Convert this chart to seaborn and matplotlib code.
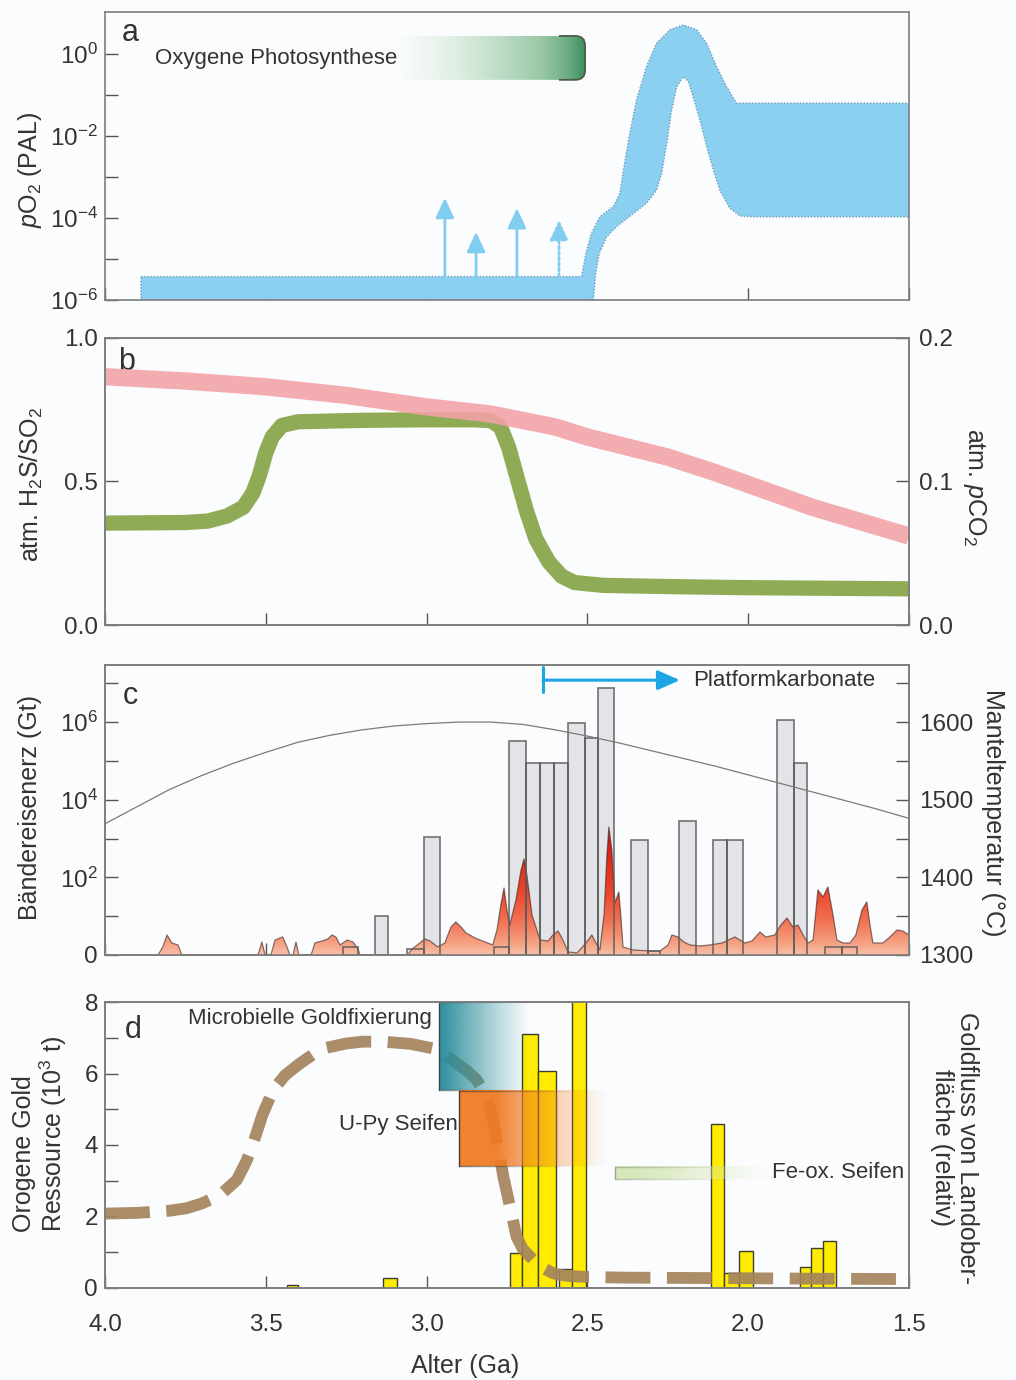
import numpy as np
import pandas as pd
import matplotlib
matplotlib.use("Agg")
import matplotlib.pyplot as plt
import seaborn as sns
from matplotlib.patches import FancyBboxPatch, Rectangle, Polygon
from matplotlib.colors import LinearSegmentedColormap, to_rgb
from matplotlib.ticker import FixedLocator, FixedFormatter, NullLocator

# ---------------- shared x axis ----------------
AGE_LIM = (4.0, 1.5)
AGE_TICKS = [4.0, 3.5, 3.0, 2.5, 2.0, 1.5]
AGE_TICK_LABELS = ["4.0", "3.5", "3.0", "2.5", "2.0", "1.5"]

# ---------------- panel a : pO2 (log10 PAL) ----------------
PO2_UPPER_AGE = [3.888, 2.518, 2.504, 2.487, 2.461, 2.419, 2.399, 2.386, 2.368, 2.347,
                 2.316, 2.285, 2.243, 2.202, 2.160, 2.129, 2.098, 2.067, 2.036, 1.5]
PO2_UPPER_LOG = [-5.43, -5.43, -4.85, -4.37, -3.97, -3.72, -3.40, -2.75, -1.93, -1.12,
                 -0.31, 0.26, 0.59, 0.71, 0.59, 0.26, -0.31, -0.80, -1.20, -1.20]
PO2_LOWER_AGE = [3.888, 2.486, 2.481, 2.474, 2.463, 2.440, 2.409, 2.357, 2.316, 2.285,
                 2.269, 2.253, 2.238, 2.222, 2.202, 2.186, 2.171, 2.150, 2.129, 2.108,
                 2.088, 2.057, 2.025, 1.984, 1.5]
PO2_LOWER_LOG = [-6.5, -6.5, -6.0, -5.35, -4.86, -4.46, -4.21, -3.89, -3.64, -3.32,
                 -2.91, -2.18, -1.37, -0.80, -0.55, -0.67, -1.04, -1.61, -2.26, -2.83,
                 -3.32, -3.76, -3.95, -3.97, -3.97]
ARROW_AGE = [2.943, 2.846, 2.719, 2.588]
ARROW_TIP_LOG = [-3.51, -4.34, -3.76, -4.05]
ARROW_DOTTED = [False, False, False, True]
PHOTO_AGE = [3.092, 2.507]
PHOTO_LOG = [-0.63, 0.44]
A_TICK_EXP = [-6, -5, -4, -3, -2, -1, 0]
A_TICK_LABELS = ["$10^{-6}$", "", "$10^{-4}$", "", "$10^{-2}$", "", "$10^{0}$"]

# ---------------- panel b ----------------
H2S_AGE = [4.0, 3.75, 3.68, 3.62, 3.57, 3.54, 3.52, 3.50, 3.48, 3.45, 3.40, 3.2, 3.0, 2.85,
           2.80, 2.77, 2.745, 2.72, 2.69, 2.66, 2.62, 2.58, 2.54, 2.45, 2.2, 2.0, 1.75, 1.5]
H2S_RATIO = [0.355, 0.357, 0.362, 0.38, 0.41, 0.46, 0.52, 0.60, 0.655, 0.695, 0.708, 0.713,
             0.715, 0.715, 0.712, 0.69, 0.62, 0.52, 0.40, 0.30, 0.22, 0.17, 0.148, 0.138,
             0.133, 0.130, 0.128, 0.126]
CO2_AGE = [4.0, 3.75, 3.5, 3.25, 3.0, 2.8, 2.6, 2.5, 2.25, 2.1, 2.0, 1.9, 1.8, 1.65, 1.5]
CO2_ATM = [0.173, 0.170, 0.166, 0.160, 0.152, 0.147, 0.138, 0.131, 0.117, 0.106, 0.098,
           0.090, 0.082, 0.072, 0.062]
B_LEFT_TICKS = [0.0, 0.5, 1.0]
B_LEFT_LABELS = ["0.0", "0.5", "1.0"]
B_RIGHT_TICKS = [0.0, 0.1, 0.2]
B_RIGHT_LABELS = ["0.0", "0.1", "0.2"]

# ---------------- panel c ----------------
BIF_OLD = [3.260, 3.160, 3.061, 3.008, 2.790, 2.744, 2.690, 2.647, 2.604, 2.560, 2.507,
           2.467, 2.364, 2.312, 2.215, 2.109, 2.066, 1.910, 1.858, 1.761, 1.708]
BIF_YOUNG = [3.213, 3.120, 3.008, 2.958, 2.744, 2.690, 2.647, 2.604, 2.560, 2.507, 2.467,
             2.417, 2.312, 2.274, 2.162, 2.066, 2.016, 1.858, 1.817, 1.708, 1.662]
BIF_GT = [1.6, 10, 1.4, 1.1e3, 1.6, 3.3e5, 8.9e4, 8.9e4, 8.9e4, 9.7e5, 4.0e5,
          7.6e6, 9.2e2, 1.3, 2.9e3, 9.2e2, 9.2e2, 1.1e6, 9.0e4, 1.6, 1.6]
ORANGE_AGE = [3.835, 3.820, 3.807, 3.792, 3.773, 3.761,
              3.524, 3.512, 3.502, 3.484, 3.471, 3.447, 3.434, 3.425, 3.415, 3.406, 3.397,
              3.359, 3.347, 3.325, 3.307, 3.294, 3.282, 3.269, 3.260, 3.247, 3.229, 3.213, 3.207,
              3.058, 3.045, 3.021, 3.005, 2.989, 2.965, 2.943, 2.924, 2.909, 2.893, 2.877, 2.849,
              2.818, 2.794, 2.781, 2.769, 2.759, 2.750, 2.741, 2.722, 2.706, 2.697, 2.688, 2.672,
              2.647, 2.622, 2.607, 2.591, 2.576, 2.560, 2.532, 2.504, 2.486, 2.470, 2.461, 2.448,
              2.439, 2.433, 2.424, 2.414, 2.402, 2.396, 2.389, 2.358, 2.305, 2.274, 2.249, 2.237,
              2.218, 2.200, 2.181, 2.150, 2.119, 2.081, 2.041, 2.010, 1.988, 1.963, 1.945, 1.917,
              1.898, 1.879, 1.861, 1.845, 1.829, 1.814, 1.798, 1.783, 1.767, 1.752, 1.736, 1.724,
              1.705, 1.683, 1.665, 1.646, 1.631, 1.621, 1.612, 1.581, 1.559, 1.537, 1.519, 1.5]
ORANGE_H = [0, 8, 20, 12, 10, 0,
            0, 13, 0, 0, 15, 18, 8, 0, 0, 13, 0,
            0, 12, 14, 16, 20, 18, 10, 12, 15, 13, 6, 0,
            0, 6, 12, 16, 14, 8, 12, 28, 33, 28, 22, 17,
            13, 10, 25, 50, 67, 45, 30, 55, 85, 96, 80, 40,
            15, 14, 20, 24, 15, 3, 2, 12, 20, 10, 5, 40,
            100, 128, 105, 52, 63, 40, 8, 5, 4, 4, 10, 20,
            18, 13, 10, 9, 10, 12, 18, 12, 14, 23, 18, 20,
            30, 37, 28, 30, 20, 12, 15, 65, 58, 68, 40, 15,
            12, 12, 20, 45, 53, 30, 12, 12, 18, 25, 24, 20]
MANTLE_AGE = [4.0, 3.9, 3.8, 3.7, 3.6, 3.5, 3.4, 3.3, 3.2, 3.1, 3.0, 2.9, 2.8, 2.7, 2.6,
              2.5, 2.4, 2.3, 2.2, 2.1, 2.0, 1.9, 1.8, 1.7, 1.6, 1.5]
MANTLE_T = [1469, 1491, 1513, 1531, 1547, 1561, 1574, 1583, 1590, 1595, 1598, 1600, 1600,
            1597, 1590, 1582, 1573, 1563, 1553, 1543, 1532, 1521, 1510, 1499, 1488, 1476]
PLATFORM_AGE = [2.638, 2.212]
PLATFORM_LOG = 7.08
C_LEFT_EXP = [0, 1, 2, 3, 4, 5, 6, 7]
C_LEFT_LABELS = ["0", "", "$10^{2}$", "", "$10^{4}$", "", "$10^{6}$", ""]
C_RIGHT_TICKS = [1300, 1350, 1400, 1450, 1500, 1550, 1600, 1650]
C_RIGHT_LABELS = ["1300", "", "1400", "", "1500", "", "1600", ""]

# ---------------- panel d ----------------
GOLD_OLD = [3.434, 3.136, 2.741, 2.703, 2.654, 2.588, 2.548, 2.116, 2.075, 2.029, 1.839, 1.805, 1.767]
GOLD_YOUNG = [3.400, 3.092, 2.703, 2.654, 2.598, 2.548, 2.504, 2.075, 2.029, 1.985, 1.805, 1.767, 1.727]
GOLD_KT = [0.08, 0.29, 0.98, 7.1, 6.06, 0.52, 8.1, 4.59, 0.43, 1.04, 0.58, 1.11, 1.31]
FLUX_AGE = [4.0, 3.90, 3.80, 3.746, 3.70, 3.642, 3.59, 3.56, 3.539, 3.51, 3.477, 3.44, 3.394,
            3.35, 3.311, 3.25, 3.20, 3.135, 3.05, 2.979, 2.94, 2.906, 2.875, 2.844, 2.82,
            2.798, 2.78, 2.761, 2.74, 2.72, 2.70, 2.668, 2.64, 2.606, 2.58, 2.554, 2.50,
            2.40, 2.20, 2.00, 1.80, 1.54]
FLUX_REL = [2.08, 2.10, 2.16, 2.23, 2.36, 2.60, 3.02, 3.55, 4.05, 4.85, 5.54, 5.95, 6.28,
            6.55, 6.72, 6.84, 6.89, 6.89, 6.83, 6.70, 6.52, 6.28, 6.08, 5.82, 5.45,
            4.89, 4.05, 3.11, 2.25, 1.43, 1.08, 0.78, 0.57, 0.41, 0.36, 0.33, 0.31,
            0.29, 0.28, 0.27, 0.26, 0.25]
MICROB_AGE = [2.961, 2.68]
MICROB_Y = [5.54, 8.0]
UPY_AGE = [2.898, 2.43]
UPY_Y = [3.41, 5.51]
FEOX_AGE = [2.414, 1.93]
FEOX_Y = [3.05, 3.39]
D_TICKS = [0, 1, 2, 3, 4, 5, 6, 7, 8]
D_LABELS = ["0", "", "2", "", "4", "", "6", "", "8"]

# ---------------- style ----------------
BG = "#fbfcfd"
TXT = "#333333"
SPINE = "#7d7d7d"
TICK_FS, LAB_FS, ANN_FS, LET_FS = 17.5, 18, 16, 22

sns.set_theme(style="ticks")
plt.rcParams.update({
    "mathtext.fontset": "custom",
    "mathtext.rm": "Liberation Sans",
    "mathtext.it": "Liberation Sans:italic",
    "mathtext.bf": "Liberation Sans:bold",
    "mathtext.default": "regular",
    "text.color": TXT,
})
plt.rcParams["font.family"] = ["Liberation Sans", "DejaVu Sans"]

fig = plt.figure(figsize=(10.16, 13.8), dpi=100)
fig.patch.set_facecolor(BG)
L, W = 0.1033, 0.7913
axa = fig.add_axes([L, 0.7826, W, 0.2087])
axb = fig.add_axes([L, 0.5471, W, 0.2080])
axc = fig.add_axes([L, 0.3080, W, 0.2101])
axd = fig.add_axes([L, 0.0667, W, 0.2072])


def base_style(ax, show_xlabels=False):
    ax.set_facecolor(BG)
    ax.xaxis.set_major_locator(FixedLocator(AGE_TICKS))
    ax.xaxis.set_minor_locator(NullLocator())
    if show_xlabels:
        ax.xaxis.set_major_formatter(FixedFormatter(AGE_TICK_LABELS))
    ax.tick_params(axis="x", which="major", direction="in", length=9, width=1.0, color="#555555",
                   labelsize=TICK_FS, pad=19, labelbottom=show_xlabels, labelcolor=TXT)
    ax.tick_params(axis="y", which="major", direction="in", length=9.5, width=1.0, color="#555555",
                   labelsize=TICK_FS, pad=5, labelcolor=TXT)
    for s in ax.spines.values():
        s.set_color(SPINE)
        s.set_linewidth(1.2)


def ylab(ax, text, x, y=0.5, rot=90, malign="center", spacing=1.2):
    ax.set_ylabel(text, fontsize=LAB_FS, rotation=rot, color=TXT, linespacing=spacing)
    ax.yaxis.set_label_coords(x, y)
    ax.yaxis.label.set_ha("center")
    ax.yaxis.label.set_va("center")
    ax.yaxis.label.set_multialignment(malign)


def set_yticks(ax, ticks, labels):
    ax.yaxis.set_major_locator(FixedLocator(ticks))
    ax.yaxis.set_major_formatter(FixedFormatter(labels))
    ax.yaxis.set_minor_locator(NullLocator())


def fade_box(ax, ages, ys, color, solid_frac, power, alpha_max, z, edge):
    n = 256
    t = np.linspace(0, 1, n)
    a = np.clip((1 - t) / (1 - solid_frac), 0, 1) ** power * alpha_max
    rgba = np.zeros((1, n, 4))
    rgba[..., :3] = to_rgb(color)
    rgba[0, :, 3] = a
    ax.imshow(rgba, extent=[ages[0], ages[1], ys[0], ys[1]], aspect="auto",
              interpolation="bilinear", zorder=z)
    ax.plot([ages[0], ages[0]], ys, color=edge, lw=1.0, zorder=z + 0.1)
    xs = np.linspace(ages[0], ages[1], 60)
    er = to_rgb(edge)
    for yv in ys:
        for i in range(59):
            ai = np.clip(1 - i / 45.0, 0, 1) * 0.75
            ax.plot([xs[i], xs[i + 1]], [yv, yv], color=(*er, ai), lw=1.0,
                    solid_capstyle="butt", zorder=z + 0.1)


# ================= panel a =================
base_style(axa)
axa.set_yscale("log")
bx = PO2_UPPER_AGE + PO2_LOWER_AGE[::-1]
by = [10.0 ** v for v in PO2_UPPER_LOG + PO2_LOWER_LOG[::-1]]
axa.fill(bx, by, facecolor="#8bd0f1", edgecolor="#6d9cba", lw=1.0, ls=(0, (1, 1.3)), zorder=2)
for age, tip, dotted in zip(ARROW_AGE, ARROW_TIP_LOG, ARROW_DOTTED):
    axa.annotate("", xy=(age, 10.0 ** tip), xytext=(age, 10.0 ** PO2_UPPER_LOG[0]),
                 arrowprops=dict(arrowstyle="-|>,head_length=0.75,head_width=0.35",
                                 color="#80cdf0", lw=2.0,
                                 ls=(0, (1, 1)) if dotted else "-",
                                 shrinkA=0, shrinkB=0, mutation_scale=16), zorder=3)
set_yticks(axa, [10.0 ** e for e in A_TICK_EXP], A_TICK_LABELS)
axa.set_xlim(*AGE_LIM)
axa.set_ylim(1e-6, 10 ** 1.024)
ylab(axa, r"$\mathit{p}$O$_2$ (PAL)", -0.093, 0.45)
axa.text(0.031, 0.927, "a", transform=axa.transAxes, fontsize=LET_FS, ha="center", va="center")
axa.text(3.845, 10 ** -0.12, "Oxygene Photosynthese", fontsize=ANN_FS, ha="left", va="center", zorder=6)

oa = axa.inset_axes([0, 0, 1, 1])
oa.axis("off")
photo_cmap = LinearSegmentedColormap.from_list(
    "photo", [(0, "#fbfcfc"), (0.3, "#e2efe5"), (0.55, "#bddcc6"), (0.75, "#9ccaa9"),
              (0.9, "#6fae84"), (1.0, "#3e8d5e")])
grad = photo_cmap(np.linspace(0, 1, 256))[None, :, :]
im = oa.imshow(grad, extent=[PHOTO_AGE[0], PHOTO_AGE[1], PHOTO_LOG[0], PHOTO_LOG[1]],
               aspect="auto", interpolation="bilinear", zorder=1)
bw = PHOTO_AGE[0] - PHOTO_AGE[1]
bh = PHOTO_LOG[1] - PHOTO_LOG[0]
clipbox = FancyBboxPatch((PHOTO_AGE[1], PHOTO_LOG[0]), bw, bh,
                         boxstyle="round,pad=0,rounding_size=0.03", mutation_aspect=7.8,
                         transform=oa.transData, facecolor="none", edgecolor="none")
im.set_clip_path(clipbox)
outline = FancyBboxPatch((PHOTO_AGE[1], PHOTO_LOG[0]), bw, bh,
                         boxstyle="round,pad=0,rounding_size=0.03", mutation_aspect=7.8,
                         facecolor="none", edgecolor="#4b5e45", lw=1.3, zorder=2)
oa.add_patch(outline)
outline.set_clip_path(Rectangle((PHOTO_AGE[1] - 0.02, PHOTO_LOG[0] - 0.3), 0.1, bh + 0.6,
                                transform=oa.transData))
oa.set_xlim(*AGE_LIM)
oa.set_ylim(-6, 1.024)

# ================= panel b =================
base_style(axb)
sns.lineplot(x=H2S_AGE, y=H2S_RATIO, ax=axb, color="#90ab55", linewidth=11,
             sort=False, solid_capstyle="butt", zorder=3)
axb.set_xlim(*AGE_LIM)
axb.set_ylim(0, 1)
set_yticks(axb, B_LEFT_TICKS, B_LEFT_LABELS)
axb.set_xlabel("")
ylab(axb, r"atm. H$_2$S/SO$_2$", -0.091, 0.49)
axb.text(0.027, 0.916, "b", transform=axb.transAxes, fontsize=LET_FS, ha="center", va="center")

axb2 = axb.twinx()
sns.lineplot(x=CO2_AGE, y=CO2_ATM, ax=axb2, color="#f3a2a7", linewidth=12.5, alpha=0.88,
             sort=False, solid_capstyle="butt")
axb2.set_ylim(0, 0.2)
set_yticks(axb2, B_RIGHT_TICKS, B_RIGHT_LABELS)
axb2.tick_params(axis="y", direction="in", length=9.5, width=1.0, color="#555555",
                 labelsize=TICK_FS, pad=7, labelcolor=TXT)
for s in axb2.spines.values():
    s.set_color(SPINE)
    s.set_linewidth(1.2)
ylab(axb2, r"atm. $\mathit{p}$CO$_2$", 1.082, 0.48, rot=-90)
axb2.set_xlim(*AGE_LIM)

# ================= panel c =================
base_style(axc)
axc.set_yscale("log")
bif_w = [y - o for o, y in zip(BIF_OLD, BIF_YOUNG)]
bif_h = [v - 1 for v in BIF_GT]
axc.bar(BIF_OLD, bif_h, width=bif_w, bottom=1, align="edge", color="#e2e4e8",
        edgecolor="none", zorder=2)
axc.bar(BIF_OLD, bif_h, width=bif_w, bottom=1, align="edge", fill=False,
        edgecolor="#5a5a5a", lw=1.2, zorder=6, alpha=0.85)
set_yticks(axc, [10.0 ** e for e in C_LEFT_EXP], C_LEFT_LABELS)
axc.set_xlim(*AGE_LIM)
axc.set_ylim(1, 10 ** 7.47)
ylab(axc, "Bändereisenerz (Gt)", -0.093, 0.51)
axc.text(0.031, 0.893, "c", transform=axc.transAxes, fontsize=LET_FS, ha="center", va="center")

# orange magmatic-activity curve on an overlay
oc = axc.inset_axes([0, 0, 1, 1])
oc.axis("off")
org_cmap = LinearSegmentedColormap.from_list(
    "org", [(0, "#f9bfa6"), (0.1, "#f59c7c"), (0.25, "#f17052"), (0.45, "#ec462c"),
            (0.7, "#df2818"), (1.0, "#b81410")])
vgrad = org_cmap(np.linspace(0, 1, 256))[:, None, :]
imc = oc.imshow(vgrad, extent=[AGE_LIM[0], AGE_LIM[1], 0, 140], origin="lower",
                aspect="auto", interpolation="bilinear", zorder=1)
verts = [(AGE_LIM[0], 0)] + list(zip(ORANGE_AGE, ORANGE_H)) + [(AGE_LIM[1], 0)]
opoly = Polygon(verts, closed=True, transform=oc.transData)
imc.set_clip_path(opoly)
oc.plot(ORANGE_AGE, ORANGE_H, color="#3a2222", lw=0.9, alpha=0.6, zorder=2)
oc.set_xlim(*AGE_LIM)
oc.set_ylim(0, 290)

axc2 = axc.twinx()
sns.lineplot(x=MANTLE_AGE, y=MANTLE_T, ax=axc2, color="#7a7a7a", linewidth=0.9, sort=False)
axc2.set_ylim(1300, 1673.5)
set_yticks(axc2, C_RIGHT_TICKS, C_RIGHT_LABELS)
axc2.tick_params(axis="y", direction="in", length=9.5, width=1.0, color="#555555",
                 labelsize=TICK_FS, pad=7, labelcolor=TXT)
for s in axc2.spines.values():
    s.set_color(SPINE)
    s.set_linewidth(1.2)
ylab(axc2, "Manteltemperatur (°C)", 1.1045, 0.49, rot=-90)
axc2.set_xlim(*AGE_LIM)

py = 10 ** PLATFORM_LOG
axc.annotate("", xy=(PLATFORM_AGE[1], py), xytext=(PLATFORM_AGE[0], py),
             arrowprops=dict(arrowstyle="-|>,head_length=0.75,head_width=0.33", color="#1ca6e6",
                             lw=2.2, shrinkA=0, shrinkB=0, mutation_scale=18), zorder=8)
axc.plot([PLATFORM_AGE[0], PLATFORM_AGE[0]], [10 ** 6.77, 10 ** 7.42], color="#1ca6e6",
         lw=2.2, zorder=8)
axc.text(2.172, py, "Platformkarbonate", fontsize=ANN_FS, ha="left", va="center", zorder=8)

# ================= panel d =================
base_style(axd, show_xlabels=True)
gold_w = [y - o for o, y in zip(GOLD_OLD, GOLD_YOUNG)]
axd.bar(GOLD_OLD, GOLD_KT, width=gold_w, align="edge", color="#ffec00",
        edgecolor="#3d3d30", lw=1.0, zorder=2)
sns.lineplot(x=FLUX_AGE, y=FLUX_REL, ax=axd, color="#a4845c", linewidth=8.5, alpha=0.92,
             sort=False, zorder=3)
fl = axd.lines[-1]
fl.set_linestyle((0, (3.8, 1.4)))
fl.set_dash_capstyle("butt")

fade_box(axd, MICROB_AGE, MICROB_Y, "#2a8e9c", 0.05, 1.1, 0.95, 4, "#344848")
fade_box(axd, UPY_AGE, UPY_Y, "#f07a22", 0.25, 1.3, 0.93, 4.5, "#4a3a30")
fade_box(axd, FEOX_AGE, FEOX_Y, "#d6e7b8", 0.1, 1.0, 1.0, 4, "#98a88a")

axd.text(2.983, 7.55, "Microbielle Goldfixierung", fontsize=ANN_FS, ha="right", va="center", zorder=7)
axd.text(2.902, 4.56, "U-Py Seifen", fontsize=ANN_FS, ha="right", va="center", zorder=7)
axd.text(1.926, 3.22, "Fe-ox. Seifen", fontsize=ANN_FS, ha="left", va="center", zorder=7)
axd.text(0.035, 0.902, "d", transform=axd.transAxes, fontsize=LET_FS, ha="center", va="center")

set_yticks(axd, D_TICKS, D_LABELS)
axd.set_xlim(*AGE_LIM)
axd.set_ylim(0, 8)
axd.set_xlabel("Alter (Ga)", fontsize=LAB_FS, color=TXT)
axd.xaxis.set_label_coords(0.448, -0.232)
ylab(axd, "Orogene Gold\nRessource (10$^3$ t)", -0.08, 0.54, malign="left", spacing=1.05)

axd2 = axd.twinx()
axd2.set_yticks([])
for s in axd2.spines.values():
    s.set_color(SPINE)
    s.set_linewidth(1.2)
ylab(axd2, "Goldfluss von Landober-\nfläche (relativ)", 1.057, 0.49, rot=-90, spacing=1.05)
axd2.set_xlim(*AGE_LIM)

fig.savefig("out.png", dpi=100, facecolor=BG)
